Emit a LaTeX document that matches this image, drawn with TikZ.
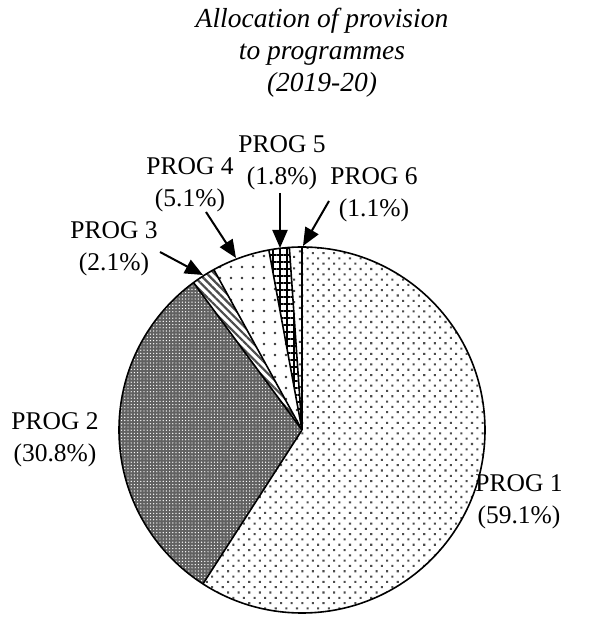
\documentclass[tikz,border=0pt]{standalone}
\usepackage{fontspec}
\setmainfont{Liberation Serif}
\usetikzlibrary{patterns.meta,arrows.meta}

\tikzset{
  edge/.style={draw=black, line width=1.6pt, line join=round},
  lbl/.style={align=center, inner sep=0pt, font=\fontsize{25.5}{32}\selectfont},
  pointer/.style={line width=2pt, -{Triangle[length=18pt,width=15pt]}}
}

\begin{document}
\begin{tikzpicture}[x=1pt,y=1pt]
\useasboundingbox (0,0) rectangle (589,619);
\coordinate (c) at (302,189);

% slices, clockwise from the top
\path[fill=white, postaction={pattern={Dots[distance=7.5pt, angle=45, radius=1.45pt]}, pattern color=black!70}]
  (c) -- ++(90:183) arc[start angle=90, end angle=-122.76, radius=183] -- cycle;
\path[fill=black!62, postaction={pattern={Dots[distance=3.2pt, radius=0.7pt]}, pattern color=white}]
  (c) -- ++(-122.76:183) arc[start angle=-122.76, end angle=-233.64, radius=183] -- cycle;
\path[fill=white, postaction={pattern={Lines[angle=-45, distance=5.5pt, line width=2.2pt]}, pattern color=black!70}]
  (c) -- ++(-233.64:183) arc[start angle=-233.64, end angle=-241.2, radius=183] -- cycle;
\path[fill=white, postaction={pattern={Dots[distance=11pt, radius=1.4pt]}, pattern color=black!80}]
  (c) -- ++(-241.2:183) arc[start angle=-241.2, end angle=-259.56, radius=183] -- cycle;
\path[fill=white, postaction={pattern={Hatch[distance=7pt, line width=1.8pt]}, pattern color=black}]
  (c) -- ++(-259.56:183) arc[start angle=-259.56, end angle=-266.04, radius=183] -- cycle;
\path[fill=white, postaction={pattern={Dots[distance=8pt, angle=45, radius=1.4pt]}, pattern color=black!75}]
  (c) -- ++(-266.04:183) arc[start angle=-266.04, end angle=-270, radius=183] -- cycle;

% outlines
\foreach \a in {90,-122.76,-233.64,-241.2,-259.56,-266.04}
  \draw[edge] (c) -- ++(\a:183);
\draw[edge] (c) circle (183);

% title
\node[lbl, anchor=north, font=\fontsize{27.5}{32}\selectfont\itshape] (title) at (322,611)
  {Allocation of provision\\to programmes\\(2019-20)};

% labels
\node[lbl] (p1) at (519,117) {PROG 1\\(59.1\%)};
\node[lbl] (p2) at (55,179) {PROG 2\\(30.8\%)};
\node[lbl] (p3) at (114,370) {PROG 3\\(2.1\%)};
\node[lbl] (p4) at (190,434) {PROG 4\\(5.1\%)};
\node[lbl] (p5) at (282,456) {PROG 5\\(1.8\%)};
\node[lbl] (p6) at (374,424) {PROG 6\\(1.1\%)};

% arrows
\coordinate (p3from) at (160,367);  \coordinate (p3to) at (203,344);
\coordinate (p4from) at (206,407);  \coordinate (p4to) at (236,361);
\coordinate (p5from) at (280,426);  \coordinate (p5to) at (280,371);
\coordinate (p6from) at (329,418);  \coordinate (p6to) at (303,373);
\draw[pointer] (p3from) -- (p3to);
\draw[pointer] (p4from) -- (p4to);
\draw[pointer] (p5from) -- (p5to);
\draw[pointer] (p6from) -- (p6to);
\end{tikzpicture}
\end{document}
